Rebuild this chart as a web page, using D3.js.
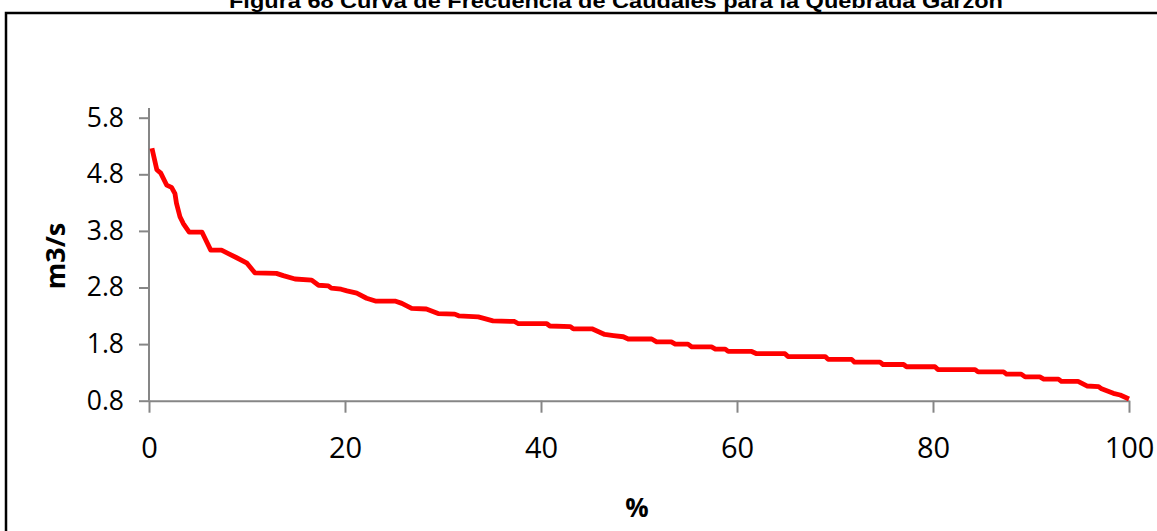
<!DOCTYPE html>
<html>
<head>
<meta charset="utf-8">
<script src="https://cdn.jsdelivr.net/npm/d3@7"></script>
<style>
  html, body { margin: 0; padding: 0; background: #fff; }
  svg { display: block; }
</style>
</head>
<body>
<svg id="chart" width="1157" height="531"></svg>
<script>
// ---- data ----
const titleText = "Figura 68 Curva de Frecuencia de Caudales para la Quebrada Garzón";
const yTitle = "m3/s";
const xTitle = "%";
const xTicks = [0, 20, 40, 60, 80, 100];
const yTicks = [0.8, 1.8, 2.8, 3.8, 4.8, 5.8];
const pct = [0.3, 0.8, 1.2, 1.8, 2.3, 2.65, 2.8, 3.16, 3.5, 4.1, 5.4, 6.3, 7.4, 8.1, 8.9, 10.0, 10.8, 13.0, 13.7,
  14.9, 16.6, 17.3, 18.3, 18.6, 19.6, 20.2, 21.2, 22.2, 23.1, 25.1, 25.8, 26.8, 28.3, 29.5, 31.2, 31.6, 33.6,
  35.1, 37.3, 37.7, 40.6, 40.9, 43.0, 43.3, 45.2, 46.5, 47.4, 48.4, 48.9, 51.3, 51.8, 53.3, 53.7, 55.0, 55.4,
  57.4, 57.8, 58.8, 59.1, 61.5, 62.0, 64.9, 65.2, 69.0, 69.3, 71.7, 72.0, 74.6, 74.9, 77.0, 77.3, 80.2, 80.5,
  84.3, 84.6, 87.2, 87.5, 89.0, 89.4, 90.9, 91.3, 92.8, 93.1, 94.8, 95.7, 96.9, 97.2, 98.4, 99.1, 100];
const caudal = [5.26, 4.88, 4.82, 4.61, 4.57, 4.46, 4.29, 4.05, 3.93, 3.78, 3.78, 3.46, 3.46, 3.40, 3.33, 3.23, 3.06, 3.05, 3.01,
  2.95, 2.93, 2.84, 2.83, 2.79, 2.77, 2.74, 2.70, 2.61, 2.56, 2.56, 2.52, 2.43, 2.42, 2.34, 2.33, 2.30, 2.28,
  2.21, 2.20, 2.16, 2.16, 2.12, 2.11, 2.07, 2.07, 1.97, 1.95, 1.93, 1.89, 1.89, 1.84, 1.84, 1.80, 1.80, 1.75,
  1.75, 1.71, 1.71, 1.67, 1.67, 1.63, 1.63, 1.58, 1.58, 1.53, 1.53, 1.48, 1.48, 1.44, 1.44, 1.40, 1.40, 1.35,
  1.35, 1.31, 1.31, 1.27, 1.27, 1.22, 1.22, 1.18, 1.18, 1.14, 1.14, 1.06, 1.05, 1.01, 0.93, 0.90, 0.83];

// ---- chart ----
const svg = d3.select("#chart");
const axisColor = "#868686";
const x = d3.scaleLinear().domain([0, 100]).range([149, 1129]);
const y = d3.scaleLinear().domain([0.8, 5.8]).range([400.7, 117.7]);

// frame
svg.append("rect")
  .attr("x", 6).attr("y", 13).attr("width", 1160).attr("height", 540)
  .attr("fill", "none").attr("stroke", "#000").attr("stroke-width", 2.5);

// title (cut off at top, as in the original)
svg.append("text")
  .attr("x", 616).attr("y", 8)
  .attr("text-anchor", "middle")
  .attr("font-family", "'Liberation Sans', Arial, sans-serif")
  .attr("font-weight", "bold")
  .attr("font-size", 21)
  .attr("textLength", 774)
  .attr("lengthAdjust", "spacingAndGlyphs")
  .text(titleText);

// x axis
const gx = svg.append("g")
  .attr("transform", `translate(0,${y(0.8)})`)
  .call(d3.axisBottom(x).tickValues(xTicks).tickSize(12).tickSizeOuter(0).tickPadding(25).tickFormat(d3.format("d")));
gx.select(".domain").attr("stroke", axisColor).attr("stroke-width", 2);
gx.selectAll(".tick line").attr("stroke", axisColor).attr("stroke-width", 2);
gx.selectAll(".tick text").attr("fill", "#000")
  .attr("font-family", "'Open Sans', sans-serif").attr("font-size", 29);

// y axis
const gy = svg.append("g")
  .attr("transform", `translate(${x(0)},0)`)
  .call(d3.axisLeft(y).tickValues(yTicks).tickSize(10).tickSizeOuter(0).tickPadding(15).tickFormat(d3.format(".1f")));
gy.select(".domain").remove();
gy.append("line").attr("x1", 0).attr("x2", 0).attr("y1", 108).attr("y2", y(0.8))
  .attr("stroke", axisColor).attr("stroke-width", 2);
gy.selectAll(".tick line").attr("stroke", axisColor).attr("stroke-width", 2);
gy.selectAll(".tick text").attr("fill", "#000")
  .attr("font-family", "'Open Sans', sans-serif").attr("font-size", 26.5);

// axis titles
svg.append("text")
  .attr("transform", "translate(65,256) rotate(-90)")
  .attr("text-anchor", "middle")
  .attr("font-family", "'Open Sans', sans-serif")
  .attr("font-weight", "bold")
  .attr("font-size", 27)
  .text(yTitle);
svg.append("text")
  .attr("x", 637).attr("y", 517)
  .attr("text-anchor", "middle")
  .attr("font-family", "'Open Sans', sans-serif")
  .attr("font-weight", "bold")
  .attr("font-size", 26)
  .text(xTitle);

// line
const pts = pct.map((p, i) => [p, caudal[i]]);
svg.append("path")
  .datum(pts)
  .attr("fill", "none")
  .attr("stroke", "#ff0000")
  .attr("stroke-width", 4.8)
  .attr("stroke-linejoin", "round")
  .attr("d", d3.line().x(d => x(d[0])).y(d => y(d[1])));
</script>
</body>
</html>
